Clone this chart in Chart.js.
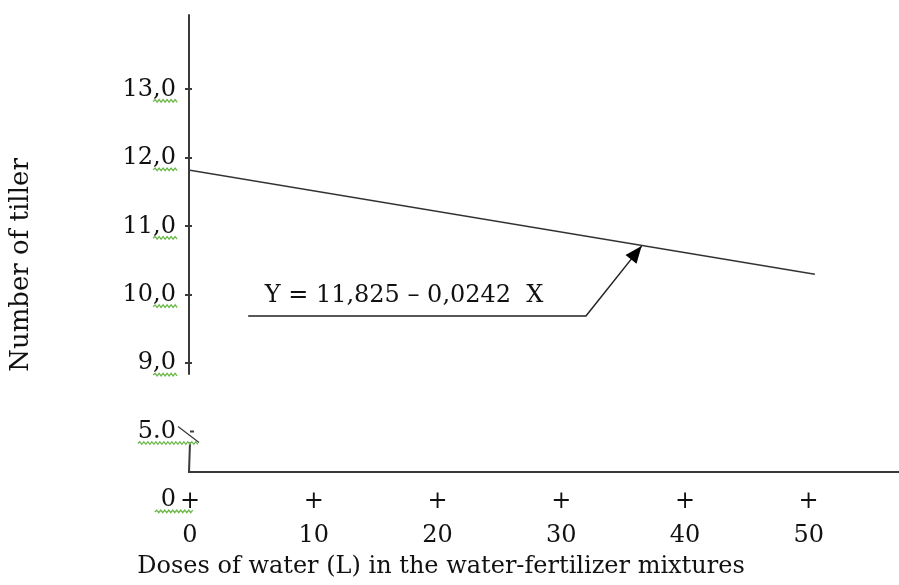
<!DOCTYPE html>
<html>
<head>
<meta charset="utf-8">
<script src="https://cdn.jsdelivr.net/npm/chart.js@4"></script>
<style>
  html, body { margin: 0; background: #fff; }
  #wrap { width: 899px; height: 585px; }
</style>
</head>
<body>
<div id="wrap"><canvas id="tiller_chart"></canvas></div>
<script>
const doses = [0, 50.5];
const tillers = [11.82, 10.30];
const x_ticks = [0, 10, 20, 30, 40, 50];
// broken y axis: "5.0" and "0" are drawn one step each below 9,0
const y_ticks = [7, 8, 9, 10, 11, 12, 13];
const y_tick_labels = ['0', '5.0', '9,0', '10,0', '11,0', '12,0', '13,0'];
const equation_text = 'Y = 11,825 \u2013 0,0242  X';
const x_title = 'Doses of water (L) in the water-fertilizer mixtures';

const FONT = 'DejaVu Serif';
const INK = '#111';

const squiggle = (ctx, x1, x2, y) => {
    ctx.beginPath();
    let up = true;
    ctx.moveTo(x1, y);
    for (let x = x1 + 2; x <= x2; x += 2) {
        ctx.lineTo(x, up ? y - 1.8 : y + 0.8);
        up = !up;
    }
    ctx.stroke();
}

const axes_and_note = {
    id: 'axes_and_note',
    afterDraw(chart) {
        const {ctx, chartArea, scales: {x, y}} = chart;
        const x0 = x.getPixelForValue(0) - 1;
        ctx.save();
        ctx.strokeStyle = '#3a3a3a';
        ctx.lineWidth = 2;
        // upper part of the y axis
        ctx.beginPath();
        ctx.moveTo(x0, y.getPixelForValue(14.1));
        ctx.lineTo(x0, y.getPixelForValue(8.83));
        ctx.stroke();
        // tick dashes
        y_ticks.filter(v => v >= 9).forEach(v => {
            const py = Math.round(y.getPixelForValue(v));
            ctx.beginPath();
            ctx.moveTo(x0 - 4, py);
            ctx.lineTo(x0 + 3, py);
            ctx.stroke();
        });
        // bit of axis near 5.0
        const p5 = y.getPixelForValue(8);
        ctx.beginPath();
        ctx.moveTo(x0 + 1, p5);
        ctx.lineTo(x0 + 5, p5);
        ctx.stroke();
        ctx.lineWidth = 1.3;
        ctx.beginPath();
        ctx.moveTo(x0 - 11, p5 - 5);
        ctx.lineTo(x0 + 10, p5 + 11);
        ctx.stroke();
        ctx.lineWidth = 2;
        ctx.beginPath();
        ctx.moveTo(x0 + 1, p5 + 11);
        ctx.lineTo(x0, chartArea.bottom);
        ctx.lineTo(chart.width, chartArea.bottom);
        ctx.stroke();

        // equation note with arrow
        const px = v => x.getPixelForValue(v);
        const py = v => y.getPixelForValue(v);
        const tip = [px(36.5), py(10.71)];
        const knee = [px(32.0), py(9.69)];
        ctx.strokeStyle = '#222';
        ctx.lineWidth = 1.5;
        ctx.beginPath();
        ctx.moveTo(px(4.7), py(9.69));
        ctx.lineTo(knee[0], knee[1]);
        ctx.lineTo(tip[0], tip[1]);
        ctx.stroke();
        const ang = Math.atan2(tip[1] - knee[1], tip[0] - knee[0]);
        ctx.fillStyle = '#000';
        ctx.beginPath();
        ctx.moveTo(tip[0], tip[1]);
        ctx.lineTo(tip[0] - 17 * Math.cos(ang) + 7 * Math.sin(ang), tip[1] - 17 * Math.sin(ang) - 7 * Math.cos(ang));
        ctx.lineTo(tip[0] - 17 * Math.cos(ang) - 7 * Math.sin(ang), tip[1] - 17 * Math.sin(ang) + 7 * Math.cos(ang));
        ctx.closePath();
        ctx.fill();

        ctx.font = `24px "${FONT}"`;
        ctx.fillStyle = INK;
        ctx.textAlign = 'center';
        ctx.textBaseline = 'middle';
        ctx.fillText(equation_text, px(17.3), py(9.98));

        // x title sits left of the plot centre in the original, so it is drawn here
        ctx.fillText(x_title, 441, chart.height - 18);

        // spell-check squiggles under the y labels
        ctx.strokeStyle = '#6cb84a';
        ctx.lineWidth = 1.3;
        const right = chartArea.left - y.options.ticks.padding;
        y_ticks.forEach((v, i) => {
            const lbl = y_tick_labels[i];
            const yy = y.getPixelForValue(v) + 12;
            if (v === 7) {
                squiggle(ctx, right - ctx.measureText(lbl).width - 6, x0 + 5, yy);
            } else if (v === 8) {
                squiggle(ctx, right - ctx.measureText(lbl).width, x0 + 10, yy);
            } else {
                squiggle(ctx, right - ctx.measureText(',0').width, right + 3, yy);
            }
        });
        ctx.restore();
    }
};

const config = {
    type: 'scatter',
    data: {
        datasets: [
            {
                label: 'Number of tiller',
                data: doses.map((d, i) => ({x: d, y: tillers[i]})),
                showLine: true,
                borderColor: '#333',
                borderWidth: 1.5,
                pointRadius: 0,
            }
        ]
    },
    options: {
        responsive: true,
        maintainAspectRatio: false,
        animation: false,
        layout: {
            padding: {top: 58, right: 0, left: 0, bottom: 0}
        },
        plugins: {
            legend: {display: false},
            tooltip: {enabled: false}
        },
        scales: {
            x: {
                type: 'linear',
                min: 0,
                max: 57.3,
                afterBuildTicks: (scale) => {
                    scale.ticks = x_ticks.map(v => ({value: v}));
                },
                afterFit: (scale) => {
                    scale.height = 113;
                },
                grid: {display: false, drawTicks: false},
                border: {display: false},
                ticks: {
                    callback: (v) => ['+', String(v)],
                    color: INK,
                    padding: 13,
                    autoSkip: false,
                    maxRotation: 0,
                    font: {family: FONT, size: 24, lineHeight: 1.417}
                }
            },
            y: {
                type: 'linear',
                min: 7.408,
                max: 13.46,
                afterBuildTicks: (scale) => {
                    scale.ticks = y_ticks.map(v => ({value: v}));
                },
                afterFit: (scale) => {
                    scale.width = 190;
                },
                grid: {display: false, drawTicks: false},
                border: {display: false},
                ticks: {
                    callback: (v) => y_tick_labels[y_ticks.indexOf(v)],
                    color: INK,
                    padding: 14,
                    autoSkip: false,
                    font: {family: FONT, size: 24}
                },
                title: {
                    display: true,
                    text: 'Number of tiller',
                    color: INK,
                    padding: {top: 6, bottom: 0},
                    font: {family: FONT, size: 26}
                }
            }
        }
    },
    plugins: [axes_and_note]
};

new Chart(document.getElementById('tiller_chart'), config);
</script>
</body>
</html>
